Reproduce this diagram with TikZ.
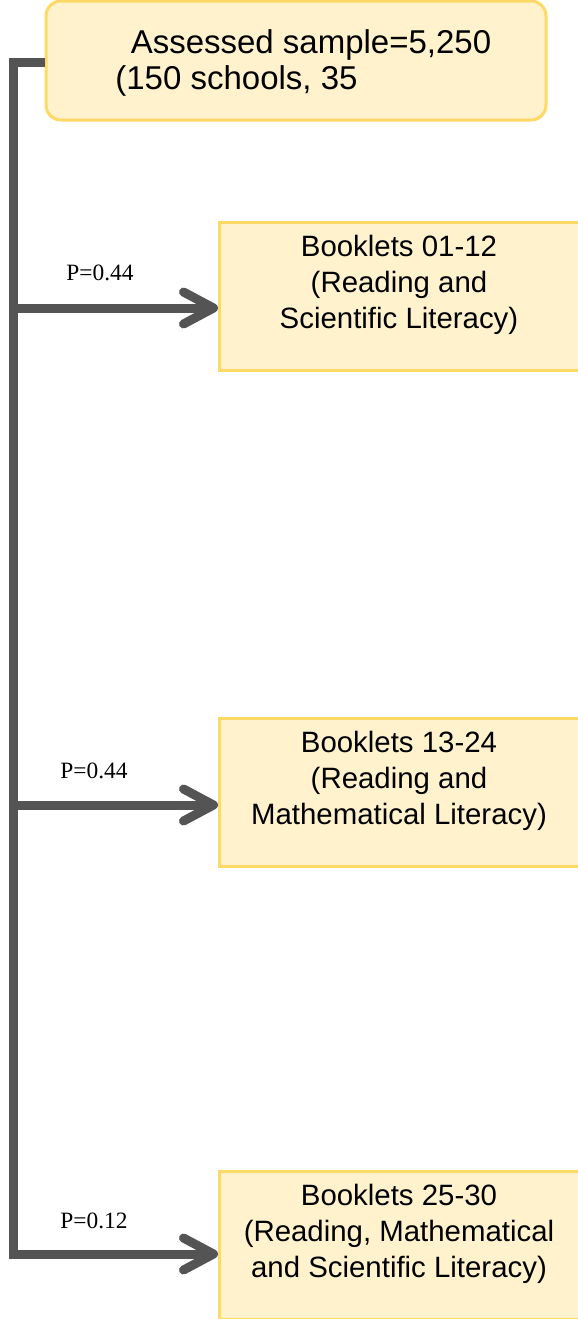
\documentclass[tikz,border=0pt]{standalone}
\usepackage{fontspec}
\setmainfont{Liberation Sans}
\newfontfamily\labelfont{Liberation Serif}
\usetikzlibrary{arrows.meta,positioning}
\definecolor{c0}{rgb}{0.33,0.33,0.33}
\definecolor{c1}{rgb}{1,0.95,0.8}
\definecolor{c2}{rgb}{1,0.85,0.4}
\tikzset{%
  samplebox/.style={rectangle,rounded corners=7.5pt,draw=c2,fill=c1,line width=1.5pt,
    minimum width=250pt,minimum height=59.5pt,inner sep=0pt},
  bookbox/.style={rectangle,draw=c2,fill=c1,line width=1.5pt,anchor=north west,
    minimum width=182pt,minimum height=74pt,inner sep=0pt},
  toptext/.style={inner sep=0pt,font=\fontsize{16.5}{18}\selectfont},
  booktext/.style={inner sep=0pt,align=center,font=\fontsize{14.7}{18}\selectfont},
  plabel/.style={inner sep=0pt,font=\labelfont\fontsize{11.7}{14}\selectfont},
  spine/.style={c0,line width=4.5pt},
  branch/.style={spine,-{Straight Barb[length=15pt,width=16pt,round]}}
}

\begin{document}
\begin{tikzpicture}[x=0.5pt,y=-0.5pt]
  \useasboundingbox (0,0) rectangle (578,1319);
  % Sample
  \node[samplebox] (top) at (296,60.5) {};
  \node[toptext] (t1) at (311,45) {Assessed sample=5,250};
  \node[toptext,anchor=west] (t2) at (115,81) {(150 schools, 35};
  % Booklets
  \node[bookbox] (b1) at (218,221) {};
  \node[booktext] (bt1) at (399,285) {Booklets 01-12\\(Reading and\\Scientific Literacy)};
  \node[bookbox] (b2) at (218,717) {};
  \node[booktext] (bt2) at (399,781) {Booklets 13-24\\(Reading and\\Mathematical Literacy)};
  \node[bookbox] (b3) at (218,1170) {};
  \node[booktext] (bt3) at (399,1234) {Booklets 25-30\\(Reading, Mathematical\\and Scientific Literacy)};
  % Connectors
  \coordinate (s0) at (13,62);
  \coordinate (j1) at (13,308);
  \coordinate (j2) at (13,805);
  \coordinate (j3) at (13,1254);
  \draw[branch] (top.west |- s0) -- (s0) -- (j3) -- (j3 -| b3.west);
  \draw[branch] (j1) -- (j1 -| b1.west);
  \draw[branch] (j2) -- (j2 -| b2.west);
  \node[plabel] (p1) at (100,273) {P=0.44};
  \node[plabel] (p2) at (94,771) {P=0.44};
  \node[plabel] (p3) at (94,1221) {P=0.12};
\end{tikzpicture}
\end{document}
